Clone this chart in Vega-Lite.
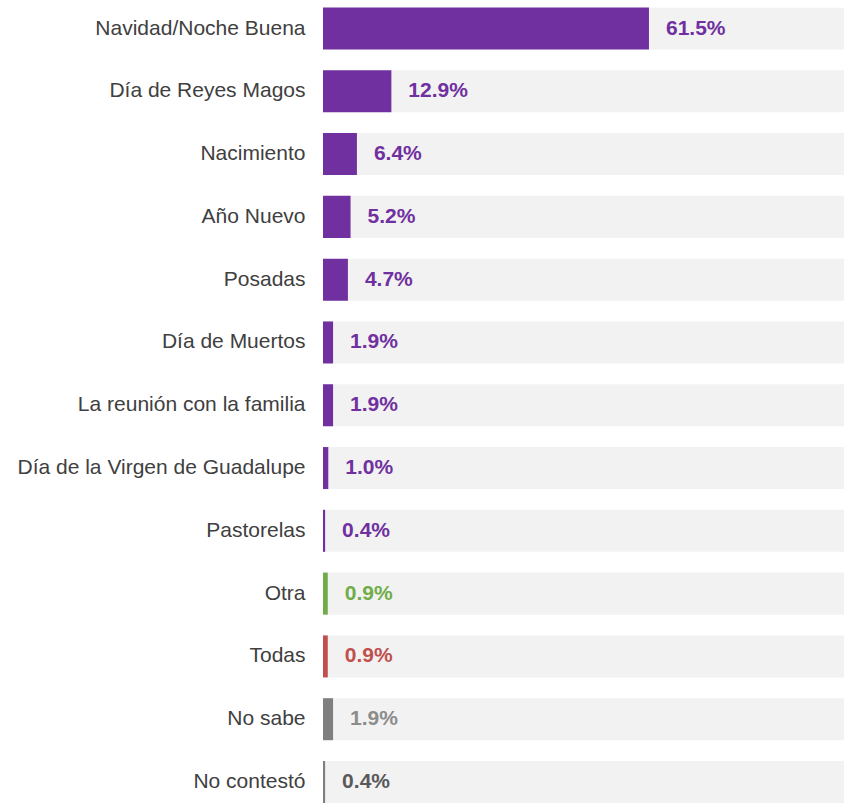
{
  "$schema": "https://vega.github.io/schema/vega-lite/v6.json",
  "autosize": {"type": "none"},
  "padding": {"left": 323, "top": 7.5, "right": 0, "bottom": 0},
  "width": 521,
  "height": 795.5,
  "background": "white",
  "config": {"view": {"stroke": null}, "font": "Liberation Sans"},
  "data": {
    "values": [
      {"opcion": "Navidad/Noche Buena", "valor": 0.615, "grupo": "principal", "total": 1},
      {"opcion": "Día de Reyes Magos", "valor": 0.129, "grupo": "principal", "total": 1},
      {"opcion": "Nacimiento", "valor": 0.064, "grupo": "principal", "total": 1},
      {"opcion": "Año Nuevo", "valor": 0.052, "grupo": "principal", "total": 1},
      {"opcion": "Posadas", "valor": 0.047, "grupo": "principal", "total": 1},
      {"opcion": "Día de Muertos", "valor": 0.019, "grupo": "principal", "total": 1},
      {"opcion": "La reunión con la familia", "valor": 0.019, "grupo": "principal", "total": 1},
      {"opcion": "Día de la Virgen de Guadalupe", "valor": 0.010, "grupo": "principal", "total": 1},
      {"opcion": "Pastorelas", "valor": 0.004, "grupo": "principal", "total": 1},
      {"opcion": "Otra", "valor": 0.009, "grupo": "otra", "total": 1},
      {"opcion": "Todas", "valor": 0.009, "grupo": "todas", "total": 1},
      {"opcion": "No sabe", "valor": 0.019, "grupo": "nosabe", "total": 1},
      {"opcion": "No contestó", "valor": 0.004, "grupo": "nocontesto", "total": 1}
    ]
  },
  "encoding": {
    "y": {
      "field": "opcion",
      "type": "nominal",
      "sort": null,
      "scale": {"paddingInner": 0.331, "paddingOuter": 0},
      "axis": {
        "title": null,
        "domain": false,
        "ticks": false,
        "labelPadding": 18,
        "labelFont": "Liberation Sans",
        "labelFontSize": 21,
        "labelColor": "#404040",
        "labelLimit": 400
      }
    }
  },
  "layer": [
    {
      "mark": {"type": "bar", "color": "#F2F2F2", "clip": true},
      "encoding": {
        "x": {"field": "total", "type": "quantitative", "scale": {"domain": [0, 0.983], "nice": false, "zero": true}, "axis": null}
      }
    },
    {
      "mark": {"type": "bar"},
      "encoding": {
        "x": {"field": "valor", "type": "quantitative", "scale": {"domain": [0, 0.983], "nice": false}, "axis": null},
        "color": {
          "field": "grupo",
          "type": "nominal",
          "scale": {"domain": ["principal", "otra", "todas", "nosabe", "nocontesto"], "range": ["#7030A0", "#70AD47", "#C0504D", "#7F7F7F", "#7F7F7F"]},
          "legend": null
        }
      }
    },
    {
      "mark": {"type": "text", "align": "left", "baseline": "middle", "dx": 17, "fontWeight": "bold", "fontSize": 21, "font": "Liberation Sans"},
      "encoding": {
        "x": {"field": "valor", "type": "quantitative", "scale": {"domain": [0, 0.983], "nice": false}, "axis": null},
        "text": {"field": "valor", "type": "quantitative", "format": ".1%"},
        "color": {
          "field": "grupo",
          "type": "nominal",
          "scale": {"domain": ["principal", "otra", "todas", "nosabe", "nocontesto"], "range": ["#7030A0", "#70AD47", "#C0504D", "#8C8C8C", "#595959"]},
          "legend": null
        }
      }
    }
  ],
  "resolve": {"scale": {"color": "independent"}}
}
